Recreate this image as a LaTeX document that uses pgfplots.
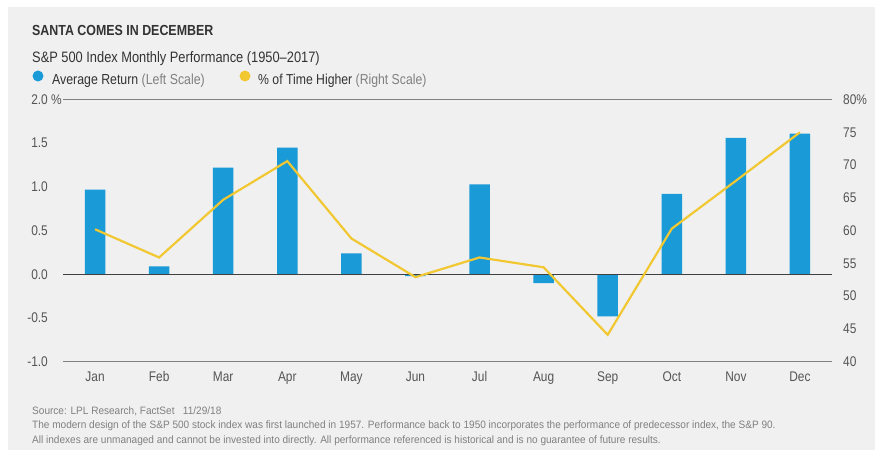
\documentclass[border=0pt]{standalone}
\usepackage{fontspec}
\setmainfont{Liberation Sans}[FakeStretch=0.85]
\newfontfamily\footfont{Liberation Sans}[FakeStretch=0.94]
\usepackage{pgfplots}
\pgfplotsset{compat=1.18}
\definecolor{bg}{HTML}{F0F0F1}
\definecolor{barblue}{HTML}{1A9AD6}
\definecolor{lineyellow}{HTML}{F1C832}
\definecolor{txt}{HTML}{333333}
\definecolor{gtxt}{HTML}{808080}
\definecolor{ticktxt}{HTML}{555555}
\definecolor{gridc}{HTML}{808080}
\begin{document}
\begin{tikzpicture}[x=1pt,y=1pt]
\fill[white] (0,0) rectangle (875,450);
\fill[bg] (8,0) rectangle (875,443);
\node[anchor=base west, inner sep=0, text=txt, font=\bfseries\fontsize{14.6}{16}\selectfont] at (32,414) {SANTA COMES IN DECEMBER};
\node[anchor=base west, inner sep=0, text=txt, font=\fontsize{15.1}{17}\selectfont] at (32,387) {S\&P 500 Index Monthly Performance (1950–2017)};
\fill[barblue] (38,374) circle (5.5);
\node[anchor=base west, inner sep=0, text=txt, font=\fontsize{14.5}{16}\selectfont] at (52,365) {Average Return \textcolor{gtxt}{(Left Scale)}};
\fill[lineyellow] (245,374) circle (5.5);
\node[anchor=base west, inner sep=0, text=txt, font=\fontsize{14.4}{16}\selectfont] at (258,365) {\% of Time Higher \textcolor{gtxt}{(Right Scale)}};
\node[anchor=base west, inner sep=0, text=gtxt, font=\footfont\fontsize{10.7}{12}\selectfont] at (32,36) {Source: LPL Research, FactSet \ \ 11/29/18};
\node[anchor=base west, inner sep=0, text=gtxt, font=\footfont\fontsize{10.7}{12}\selectfont] at (32,21.5) {The modern design of the S\&P 500 stock index was first launched in 1957. Performance back to 1950 incorporates the performance of predecessor index, the S\&P 90.};
\node[anchor=base west, inner sep=0, text=gtxt, font=\footfont\fontsize{10.7}{12}\selectfont] at (32,7) {All indexes are unmanaged and cannot be invested into directly. All performance referenced is historical and is no guarantee of future results.};

\begin{axis}[at={(63pt,88.3pt)}, anchor=south west, scale only axis,
  width=769pt, height=262.2pt,
  xmin=-0.5, xmax=11.5, ymin=-1, ymax=2,
  axis line style={draw=none}, major tick length=0pt,
  xtick={0,...,11},
  xticklabels={Jan,Feb,Mar,Apr,May,Jun,Jul,Aug,Sep,Oct,Nov,Dec},
  xticklabel style={anchor=base, yshift=-19.5pt, inner sep=0pt, text=ticktxt, font=\fontsize{14}{16}\selectfont},
  ytick={-1,-0.5,0,0.5,1,1.5,2},
  yticklabels={-1.0,-0.5,0.0,0.5,1.0,1.5,{2.0\rlap{ \%}}},
  yticklabel style={anchor=east, xshift=-15pt, inner sep=0pt, text=ticktxt, font=\fontsize{14}{16}\selectfont},
  clip=false]
\draw[gridc, line width=1pt] (axis cs:-0.5,2) -- (axis cs:11.5,2);
\draw[gridc, line width=1pt] (axis cs:-0.5,-1) -- (axis cs:11.5,-1);
\addplot[ybar, bar width=20.5pt, fill=barblue, draw=none] coordinates {
(0,0.97) (1,0.09) (2,1.22) (3,1.45) (4,0.24) (5,-0.02)
(6,1.03) (7,-0.10) (8,-0.48) (9,0.92) (10,1.56) (11,1.61)};
\draw[black!75, line width=1.1pt] (axis cs:-0.5,0) -- (axis cs:11.5,0);
\end{axis}

\begin{axis}[at={(63pt,88.3pt)}, anchor=south west, scale only axis,
  width=769pt, height=262.2pt,
  xmin=-0.5, xmax=11.5, ymin=40, ymax=80,
  axis line style={draw=none}, major tick length=0pt,
  xtick=\empty,
  ytick={40,45,...,80},
  yticklabels={40,45,50,55,60,65,70,75,80\%},
  yticklabel pos=right,
  yticklabel style={anchor=west, xshift=11pt, inner sep=0pt, text=ticktxt, font=\fontsize{14}{16}\selectfont},
  clip=false]
\addplot[lineyellow, line width=2.2pt, mark=none] coordinates {
(0,60.2) (1,55.9) (2,64.7) (3,70.6) (4,58.8) (5,52.9)
(6,55.9) (7,54.4) (8,44.1) (9,60.3) (10,67.6) (11,75.0)};
\end{axis}
\end{tikzpicture}
\end{document}
